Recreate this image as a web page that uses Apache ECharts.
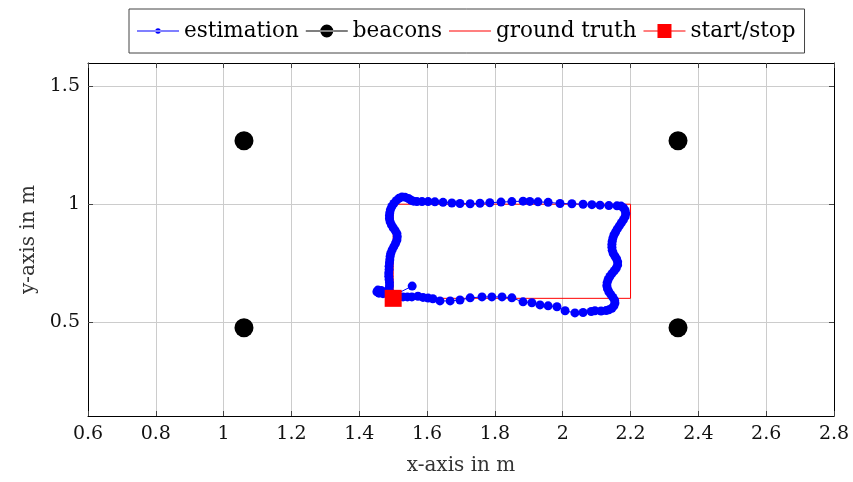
<!DOCTYPE html>
<html>
<head>
<meta charset="utf-8">
<script src="https://cdn.jsdelivr.net/npm/echarts@6/dist/echarts.min.js"></script>
<style>
html,body{margin:0;padding:0;background:#fff;}
#chart{width:853px;height:482px;}
</style>
</head>
<body>
<div id="chart"></div>
<script>
// ---- data ----
var estimationX = [1.556,1.505,1.492,1.478,1.465,1.455,1.452,1.458,1.470,1.482,1.488,1.489,1.489,1.488,1.487,1.487,1.488,1.488,1.489,1.490,1.491,1.493,1.497,1.502,1.507,1.511,1.512,1.511,1.506,1.500,1.495,1.491,1.489,1.489,1.490,1.492,1.496,1.502,1.509,1.517,1.526,1.535,1.545,
1.553,1.560,1.570,1.585,1.603,1.623,1.647,1.673,1.697,1.727,1.756,1.785,1.818,1.850,1.883,1.903,1.927,1.957,1.992,2.027,2.060,2.086,2.110,2.136,2.160,
2.172,2.179,2.184,2.186,2.184,2.179,2.173,2.167,2.161,2.156,2.151,2.148,2.146,2.145,2.145,2.146,2.149,2.154,2.159,2.162,2.162,2.158,2.152,2.145,2.139,2.134,2.131,2.130,2.132,2.136,2.142,2.148,2.153,2.154,2.151,2.145,2.136,
2.128,2.113,2.095,2.084,2.060,2.036,2.007,1.983,1.957,1.933,1.909,1.883,1.850,1.821,1.791,1.762,1.727,1.697,1.668,1.638,1.617,1.603,1.588,1.573,1.555,1.542,1.529];
var estimationY = [0.652,0.615,0.622,0.628,0.633,0.635,0.628,0.622,0.620,0.626,0.638,0.652,0.666,0.680,0.694,0.708,0.722,0.736,0.750,0.764,0.778,0.792,0.806,0.820,0.834,0.848,0.862,0.875,0.888,0.900,0.912,0.925,0.938,0.951,0.964,0.977,0.990,1.003,1.015,1.025,1.031,1.030,1.024,
1.017,1.013,1.011,1.011,1.011,1.010,1.008,1.005,1.003,1.002,1.004,1.006,1.009,1.011,1.013,1.012,1.010,1.008,1.003,1.002,1.000,0.998,0.996,0.994,0.993,
0.992,0.985,0.973,0.960,0.947,0.934,0.921,0.908,0.895,0.882,0.869,0.856,0.843,0.830,0.817,0.804,0.791,0.779,0.767,0.755,0.742,0.729,0.717,0.705,0.693,0.680,0.667,0.654,0.641,0.628,0.616,0.604,0.592,0.580,0.568,0.558,0.551,
0.548,0.546,0.547,0.544,0.540,0.538,0.547,0.564,0.568,0.572,0.581,0.585,0.602,0.606,0.606,0.606,0.602,0.593,0.589,0.589,0.598,0.601,0.604,0.609,0.606,0.606,0.606];
var groundTruthX = [1.5, 2.2, 2.2, 1.5, 1.5];
var groundTruthY = [0.6, 0.6, 1.0, 1.0, 0.6];
var beaconX = [1.06, 2.34, 1.06, 2.34];
var beaconY = [1.27, 1.27, 0.475, 0.475];
var startStopX = [1.5];
var startStopY = [0.6];
var xTickValues = [0.6,0.8,1,1.2,1.4,1.6,1.8,2,2.2,2.4,2.6,2.8];
var yTickValues = [0.5, 1, 1.5];
var seriesNames = ['estimation', 'beacons', 'ground truth', 'start/stop'];

function pairs(xs, ys) { return xs.map(function (x, i) { return [x, ys[i]]; }); }

var FONT = 'DejaVu Serif';
var corners = 'M0,0L0.01,0ZM42,14L41.99,14Z';
var lineRect = 'M0,6.5L42,6.5L42,7.5L0,7.5Z';
var icons = {
  'estimation': 'path://' + corners + lineRect + 'M18.3,7A2.7,2.7,0,1,0,23.7,7A2.7,2.7,0,1,0,18.3,7Z',
  'beacons': 'path://' + corners + lineRect + 'M14.5,7A6.5,6.5,0,1,0,27.5,7A6.5,6.5,0,1,0,14.5,7Z',
  'ground truth': 'path://' + corners + lineRect,
  'start/stop': 'path://' + corners + lineRect + 'M14,0L28,0L28,14L14,14Z'
};

var chart = echarts.init(document.getElementById('chart'), null, {renderer: 'canvas'});

var xMin = 0.6, xMax = 2.8, yMin = 0.1, yMax = 1.6;
var gridColor = '#cccccc';

var option = {
  animation: false,
  backgroundColor: '#fff',
  textStyle: {fontFamily: FONT},
  grid: {left: 88, right: 19, top: 63, bottom: 66, containLabel: false},
  legend: {
    left: 129, top: 9,
    itemWidth: 42, itemHeight: 14, itemGap: 7,
    padding: [11, 9, 11, 8],
    borderColor: '#444', borderWidth: 1,
    textStyle: {fontFamily: FONT, fontSize: 21.5, color: '#000'},
    itemStyle: {borderWidth: 0},
    data: seriesNames.map(function (n) { return {name: n, icon: icons[n]}; })
  },
  xAxis: [{
    type: 'value', min: xMin, max: xMax, interval: 0.2,
    name: 'x-axis in m', nameLocation: 'middle', nameGap: 40,
    nameTextStyle: {fontFamily: FONT, fontSize: 20, color: '#333'},
    axisLine: {show: true, onZero: false, lineStyle: {color: '#000', width: 1}},
    axisTick: {show: true, inside: true, length: 5, lineStyle: {color: '#444'}},
    axisLabel: {fontFamily: FONT, fontSize: 19, color: '#111', margin: 9,
      formatter: function (v) { return String(Math.round(v * 10) / 10); }},
    splitLine: {show: true, lineStyle: {color: gridColor, width: 1}}
  }, {
    type: 'value', position: 'top', min: xMin, max: xMax, interval: 0.2,
    axisLine: {show: true, onZero: false, lineStyle: {color: '#000', width: 1}},
    axisTick: {show: true, inside: true, length: 5, lineStyle: {color: '#444'}},
    axisLabel: {show: false}, splitLine: {show: false}
  }],
  yAxis: [{
    type: 'value', min: yMin, max: yMax,
    name: 'y-axis in m', nameLocation: 'middle', nameGap: 47, nameRotate: 90,
    nameTextStyle: {fontFamily: FONT, fontSize: 20, color: '#333'},
    axisLine: {show: true, onZero: false, lineStyle: {color: '#000', width: 1}},
    axisTick: {show: true, inside: true, length: 5, customValues: yTickValues, lineStyle: {color: '#444'}},
    axisLabel: {fontFamily: FONT, fontSize: 19, color: '#111', margin: 8, customValues: yTickValues,
      formatter: function (v) { return String(v); }},
    splitLine: {show: true, lineStyle: {color: gridColor, width: 1}}
  }, {
    type: 'value', position: 'right', min: yMin, max: yMax,
    axisLine: {show: true, onZero: false, lineStyle: {color: '#000', width: 1}},
    axisTick: {show: true, inside: true, length: 5, customValues: yTickValues, lineStyle: {color: '#444'}},
    axisLabel: {show: false}, splitLine: {show: false}
  }],
  series: [{
    name: 'ground truth', type: 'line', xAxisIndex: 0, yAxisIndex: 0,
    data: pairs(groundTruthX, groundTruthY),
    symbol: 'none', color: '#ff0000',
    lineStyle: {color: '#ff0000', width: 1}, z: 2
  }, {
    name: 'estimation', type: 'line', xAxisIndex: 0, yAxisIndex: 0,
    data: pairs(estimationX, estimationY),
    symbol: 'circle', symbolSize: 9, showSymbol: true, showAllSymbol: true,
    color: '#0000ff',
    itemStyle: {color: '#0000ff'},
    lineStyle: {color: '#0000ff', width: 1}, z: 3
  }, {
    name: 'beacons', type: 'line', xAxisIndex: 0, yAxisIndex: 0,
    data: pairs(beaconX, beaconY),
    symbol: 'circle', symbolSize: 19, color: '#000',
    itemStyle: {color: '#000'},
    lineStyle: {width: 0, opacity: 0}, z: 4
  }, {
    name: 'start/stop', type: 'line', xAxisIndex: 0, yAxisIndex: 0,
    data: pairs(startStopX, startStopY),
    symbol: 'rect', symbolSize: 17, color: '#ff0000',
    itemStyle: {color: '#ff0000'},
    lineStyle: {color: '#ff0000', width: 1}, z: 5
  }]
};
chart.setOption(option);
</script>
</body>
</html>
